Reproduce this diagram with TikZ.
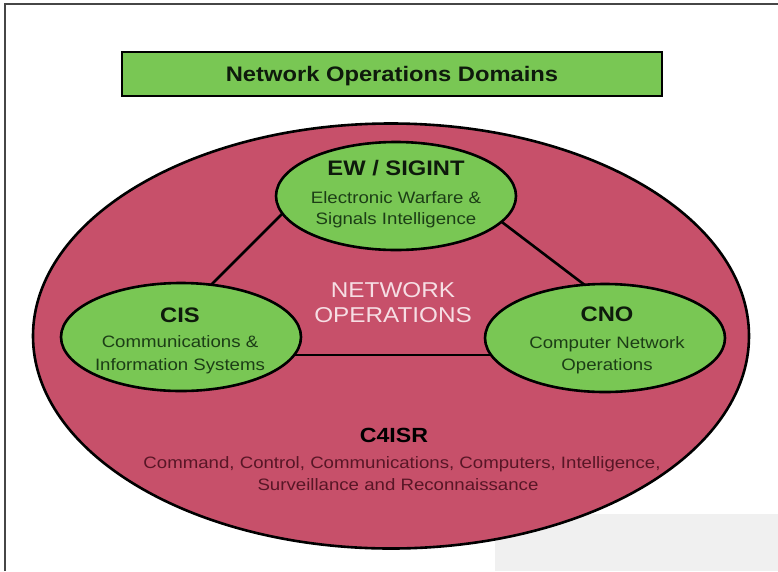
\documentclass[tikz,border=0pt]{standalone}
\usepackage{fontspec}
\setmainfont{Liberation Sans}[FakeStretch=1.13]
\usetikzlibrary{shapes.geometric}

\definecolor{domgreen}{RGB}{121,199,84}
\definecolor{c4pink}{RGB}{199,80,106}
\definecolor{greentext}{RGB}{28,62,22}
\definecolor{headtext}{RGB}{14,26,12}
\definecolor{maroontext}{RGB}{88,22,38}
\definecolor{optext}{RGB}{246,222,228}
\definecolor{framegray}{RGB}{70,70,70}
\definecolor{panelgray}{RGB}{240,240,240}

\tikzset{
  opsdomain/.style={draw=black, fill=domgreen, ellipse, line width=2.6pt,
    minimum width=240pt, minimum height=108pt, inner sep=0pt},
  domhead/.style={anchor=base, font=\fontsize{21}{25}\selectfont\bfseries, text=headtext},
  domsub/.style={anchor=base, font=\fontsize{16.5}{20}\selectfont, text=greentext},
  c4sub/.style={anchor=base, font=\fontsize{16.5}{20}\selectfont, text=maroontext},
  link/.style={draw=black, line width=2.6pt},
}

\begin{document}
\begin{tikzpicture}[x=1pt, y=-1pt]
  \useasboundingbox (0,0) rectangle (778,571);
  \fill[white] (0,0) rectangle (778,571);

  % light panel in the lower right corner
  \fill[panelgray] (495,514) rectangle (778,571);

  % page frame (top and left edges)
  \draw[framegray, line width=1.6pt] (5,571) -- (5,4) -- (778,4);

  % heading bar
  \node[draw=black, fill=domgreen, line width=2.6pt, minimum width=540pt,
        minimum height=44pt, inner sep=0pt] (title) at (392,74) {};
  \node[anchor=base, font=\fontsize{21}{25}\selectfont\bfseries, text=headtext]
        (titletext) at (392,81) {Network Operations Domains};

  % outer C4ISR domain
  \node[draw=black, fill=c4pink, ellipse, line width=2.6pt,
        minimum width=716pt, minimum height=425pt, inner sep=0pt] (c4) at (391,336) {};

  % triangle of links between the three domains
  \coordinate (l1) at (205,291);
  \coordinate (l2) at (290,206);
  \coordinate (r1) at (490,213);
  \coordinate (r2) at (590,289);
  \coordinate (b1) at (280,355);
  \coordinate (b2) at (500,355);
  \draw[link] (l1) -- (l2);
  \draw[link] (r1) -- (r2);
  \draw[link] (b1) -- (b2);

  % inner domains
  \node[opsdomain] (ew)  at (396,196) {};
  \node[opsdomain] (cis) at (181,337) {};
  \node[opsdomain] (cno) at (605,338) {};

  \node[domhead] (ewhead) at (396,175) {EW / SIGINT};
  \node[domsub]  (ewsub1) at (396,203) {Electronic Warfare \&};
  \node[domsub]  (ewsub2) at (396,224) {Signals Intelligence};

  \node[domhead] (cishead) at (180,322) {CIS};
  \node[domsub]  (cissub1) at (180,347) {Communications \&};
  \node[domsub]  (cissub2) at (180,370) {Information Systems};

  \node[domhead] (cnohead) at (607,321) {CNO};
  \node[domsub]  (cnosub1) at (607,348) {Computer Network};
  \node[domsub]  (cnosub2) at (607,370) {Operations};

  % centre label
  \node[anchor=base, font=\fontsize{21.5}{25}\selectfont, text=optext]
        (op1) at (393,297) {NETWORK};
  \node[anchor=base, font=\fontsize{21.5}{25}\selectfont, text=optext]
        (op2) at (393,322) {OPERATIONS};

  % C4ISR label
  \node[anchor=base, font=\fontsize{20.5}{25}\selectfont\bfseries, text=black]
        (c4head) at (394,442) {C4ISR};
  \node[c4sub] (c4sub1) at (402,468) {Command, Control, Communications, Computers, Intelligence,};
  \node[c4sub] (c4sub2) at (398,490) {Surveillance and Reconnaissance};
\end{tikzpicture}
\end{document}
